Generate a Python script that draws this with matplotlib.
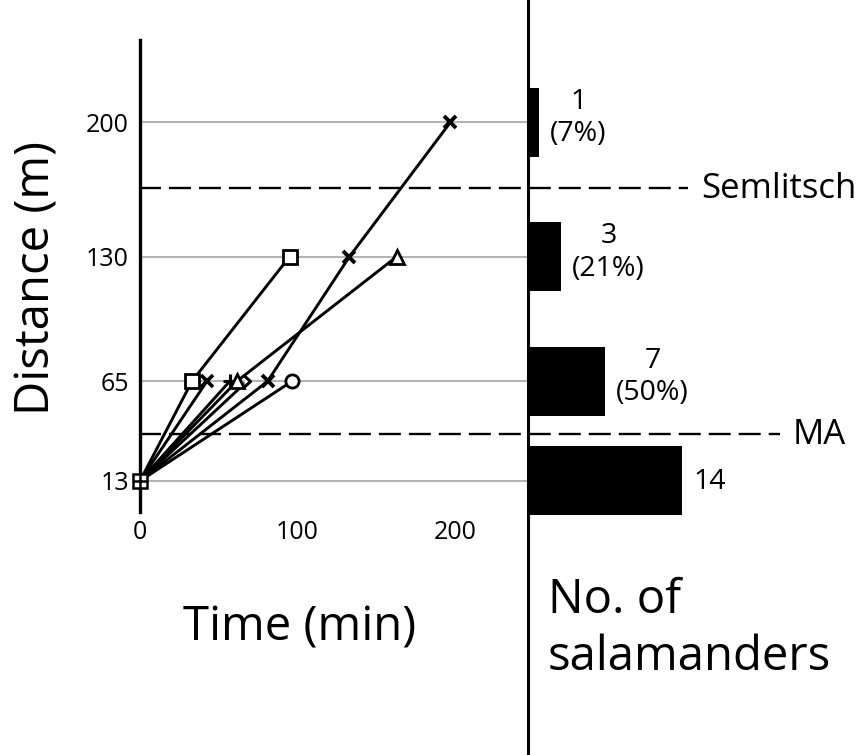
import matplotlib
matplotlib.use('Agg')
import matplotlib.pyplot as plt
from matplotlib.lines import Line2D
from matplotlib.path import Path
from matplotlib.transforms import blended_transform_factory

plt.rcParams['font.family'] = ['Open Sans', 'DejaVu Sans']

# estaciones de captura (m)
distancias = [13, 65, 130, 200]
etiquetas_y = ['13', '65', '130', '200']
ticks_x = [0, 100, 200]

# recorridos individuales: tiempo (min) contra distancia (m)
t_cuadro = [0, 33, 95]
d_cuadro = [13, 65, 130]
t_cruz1 = [0, 42.5]
d_cruz1 = [13, 65]
t_mas = [0, 57]
d_mas = [13, 65]
t_triang = [0, 61.5, 163]
d_triang = [13, 65, 130]
t_flecha = [0, 68]
d_flecha = [13, 65]
t_cruz2 = [0, 81, 133, 197]
d_cruz2 = [13, 65, 130, 200]
t_circ = [0, 96.5]
d_circ = [13, 65]

# salamandras que llegaron a cada estación
conteos = [14, 7, 3, 1]
etiquetas_barras = ['14', '7\n(50%)', '3\n(21%)', '1\n(7%)']

# límites de referencia (m)
semlitsch = 166
ma = 37.5

W, H = 856, 755
fig = plt.figure(figsize=(W / 100, H / 100), dpi=100)

izq, der, arriba, abajo = 140, 528, 40, 512
pos = [izq / W, 1 - abajo / H, (der - izq) / W, (abajo - arriba) / H]
ax = fig.add_axes(pos)
ax.set_xlim(0, (der - izq) / 1.575)
ax.set_ylim(-3.2, 243)

for d in distancias:
    ax.axhline(d, color='#b4b4b4', lw=1.5, zorder=1)

chevron = Path([(-0.55, 1), (0.55, 0), (-0.55, -1)],
               [Path.MOVETO, Path.LINETO, Path.LINETO])

recorridos = [
    (t_cuadro, d_cuadro, 's', 9.5, 2.0),
    (t_cruz1, d_cruz1, 'x', 8.5, 2.6),
    (t_mas, d_mas, '+', 9.5, 2.2),
    (t_triang, d_triang, '^', 10, 2.0),
    (t_flecha, d_flecha, chevron, 8, 2.2),
    (t_cruz2, d_cruz2, 'x', 8.5, 2.8),
    (t_circ, d_circ, 'o', 9.5, 2.0),
]
for t, d, m, ms, mw in recorridos:
    ax.plot(t, d, color='black', lw=2.1, zorder=3)
    ax.plot(t[1:], d[1:], ls='none', marker=m, ms=ms, mec='black',
            mfc='white', mew=mw, zorder=4, clip_on=False)

# punto de partida
ax.plot([0], [13], ls='none', marker='s', ms=9.5, mec='black', mfc='white',
        mew=1.8, zorder=5, clip_on=False)
ax.plot([0], [13], ls='none', marker='+', ms=9.5, mec='black', mew=1.8,
        zorder=6, clip_on=False)

for lado in ['top', 'right', 'bottom']:
    ax.spines[lado].set_visible(False)
ax.spines['left'].set_linewidth(2.4)
ax.spines['left'].set_zorder(2)
ax.set_yticks(distancias)
ax.set_yticklabels(etiquetas_y)
ax.set_xticks(ticks_x)
ax.tick_params(axis='both', length=0, labelsize=18)
ax.tick_params(axis='y', pad=8)
ax.tick_params(axis='x', pad=6)

# barras con el número de salamandras
ax2 = fig.add_axes([der / W, pos[1], (W - der) / W, pos[3]])
ax2.set_xlim(0, (W - der) / 11)
ax2.set_ylim(ax.get_ylim())
ax2.barh(distancias, conteos, height=36, color='black', clip_on=False)
for d, c, txt in zip(distancias, conteos, etiquetas_barras):
    ax2.annotate(txt, xy=(c, d), xytext=(8, 3 if c != 14 else -1),
                 textcoords='offset points', ha='left', va='center',
                 multialignment='center', fontsize=20.5)
ax2.axis('off')

# líneas discontinuas de los límites
trans = blended_transform_factory(fig.transFigure, ax.transData)
for y, x_fin, nombre in [(semlitsch, 688, 'Semlitsch'), (ma, 780, 'MA')]:
    ax.plot([139 / W, x_fin / W], [y, y], color='black', lw=1.7,
            ls=(0, (9.3, 3.4)), transform=trans, clip_on=False, zorder=2)
    ax.annotate(nombre, xy=((x_fin + 13) / W, y), xycoords=trans,
                xytext=(0, -7.5), textcoords='offset points',
                ha='left', va='baseline', fontsize=25)

fig.add_artist(Line2D([der / W, der / W], [0, 1], transform=fig.transFigure,
                      color='black', lw=2.2))

fig.text(37 / W, 1 - 278 / H, 'Distance (m)', rotation=90, ha='center',
         va='center', fontsize=34)
fig.text(300 / W, 1 - 641 / H, 'Time (min)', ha='center', va='baseline',
         fontsize=34)
fig.text(548 / W, 1 - 613 / H, 'No. of', ha='left', va='baseline',
         fontsize=34)
fig.text(548 / W, 1 - 670 / H, 'salamanders', ha='left', va='baseline',
         fontsize=34)

fig.savefig('out.png', dpi=100)
